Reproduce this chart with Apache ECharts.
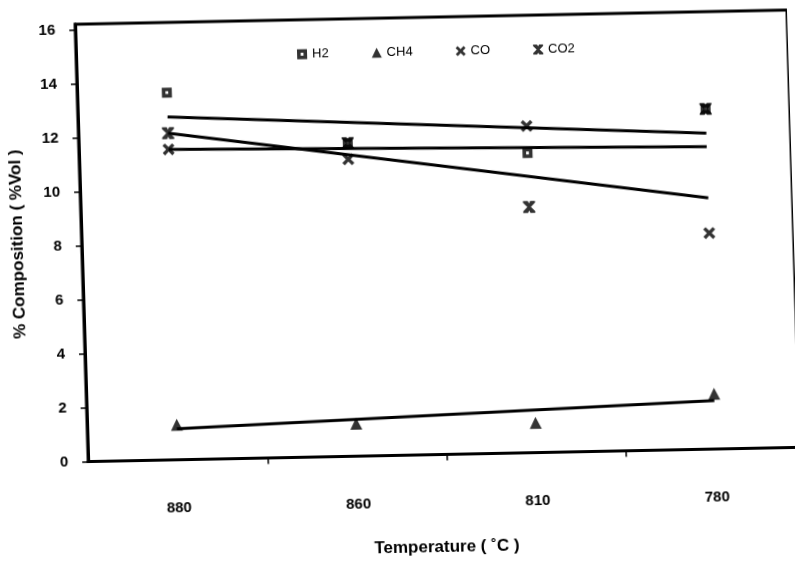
<!DOCTYPE html>
<html>
<head>
<meta charset="utf-8">
<script src="https://cdn.jsdelivr.net/npm/echarts@6/dist/echarts.min.js"></script>
<style>
html,body{margin:0;padding:0;background:#ffffff;overflow:hidden;}
#chart{width:795px;height:562px;transform:matrix(1,-0.02,0.03,1,0,0);transform-origin:397px 281px;}
</style>
</head>
<body>
<div id="chart"></div>
<script>
// ---- data ----
const categories = ['880', '860', '810', '780'];
const seriesNames = ['H2', 'CH4', 'CO', 'CO2'];
const h2  = [13.6, 11.6, 11.1, 12.6];
const ch4 = [1.3, 1.2, 1.1, 2.05];
const co  = [11.5, 11.0, 12.1, 8.0];
const co2 = [12.1, 11.6, 9.1, 12.6];
// linear trend lines (value at first and last category)
const trendH2  = [12.7, 11.7];
const trendCH4 = [1.15, 1.8];
const trendCO  = [12.1, 9.3];
const trendCO2 = [11.5, 11.2];
const yTicks = [0, 2, 4, 6, 8, 10, 12, 14, 16];
const xTitle = 'Temperature ( \u02DAC )';
const yTitle = '% Composition ( %Vol )';

// ---- styling ----
const FONT = 'Liberation Sans';
const sqPath = 'path://M0,0 L10,0 L10,10 L0,10 Z M3.6,3.6 L3.6,6.4 L6.4,6.4 L6.4,3.6 Z';
const xPath = 'path://M0,2 L2,0 L5,3 L8,0 L10,2 L7,5 L10,8 L8,10 L5,7 L2,10 L0,8 L3,5 Z';
const bowPath = 'path://M0,0 L4,0 L5,2 L6,0 L10,0 L10,1.5 L6.5,5 L10,8.5 L10,10 L6,10 L5,8 L4,10 L0,10 L0,8.5 L3.5,5 L0,1.5 Z';

function pts(arr){ return arr.map((v,i)=>[i,v]); }
function trend(arr){ return [[0,arr[0]],[categories.length-1,arr[1]]]; }
const catIdx = categories.map((c,i)=>i);
const midIdx = categories.slice(1).map((c,i)=>i+0.5);

const chart = echarts.init(document.getElementById('chart'), null, {renderer:'canvas'});
const lineStyle = {color:'#000', width:3};
chart.setOption({
  backgroundColor:'#ffffff',
  animation:false,
  grid:{left:83, right:-2, top:18, bottom:106.5, show:true, borderColor:'#000', borderWidth:3, backgroundColor:'transparent'},
  legend:{
    data: seriesNames,
    left: 299, top: 41,
    itemWidth: 10, itemHeight: 10, itemGap: 43,
    textStyle:{fontFamily:FONT, fontSize:13, color:'#000'}
  },
  xAxis:{
    type:'value', min:-0.5, max:3.47,
    splitLine:{show:false},
    axisLine:{onZero:false, lineStyle:{color:'#000', width:3}},
    axisTick:{show:true, length:6, lineStyle:{color:'#000', width:1.5}, customValues:midIdx},
    axisLabel:{customValues:catIdx, margin:41, fontFamily:FONT, fontSize:15, fontWeight:'bold', color:'#000',
      formatter:(v)=>categories[Math.round(v)]},
    name:xTitle, nameLocation:'middle', nameGap:84,
    nameTextStyle:{fontFamily:FONT, fontSize:17, fontWeight:'bold', color:'#000'}
  },
  yAxis:{
    type:'value', min:yTicks[0], max:16.2,
    splitLine:{show:false},
    axisLine:{onZero:false, lineStyle:{color:'#000', width:3}},
    axisTick:{show:true, length:6, lineStyle:{color:'#000', width:1.5}, customValues:yTicks},
    axisLabel:{customValues:yTicks, margin:20, fontFamily:FONT, fontSize:15, fontWeight:'bold', color:'#000'},
    name:yTitle, nameLocation:'middle', nameRotate:90, nameGap:55,
    nameTextStyle:{fontFamily:FONT, fontSize:17, fontWeight:'bold', color:'#000'}
  },
  series:[
    {name:'trendH2', type:'line', data:trend(trendH2), symbol:'none', lineStyle:lineStyle, silent:true},
    {name:'trendCH4', type:'line', data:trend(trendCH4), symbol:'none', lineStyle:lineStyle, silent:true},
    {name:'trendCO', type:'line', data:trend(trendCO), symbol:'none', lineStyle:lineStyle, silent:true},
    {name:'trendCO2', type:'line', data:trend(trendCO2), symbol:'none', lineStyle:lineStyle, silent:true},
    {name:'H2', type:'scatter', data:pts(h2), symbol:sqPath, symbolSize:10,
      itemStyle:{color:'#000'}},
    {name:'CH4', type:'scatter', data:pts(ch4), symbol:'triangle', symbolSize:12,
      itemStyle:{color:'#000'}},
    {name:'CO', type:'scatter', data:pts(co), symbol:xPath, symbolSize:12,
      itemStyle:{color:'#000'}},
    {name:'CO2', type:'scatter', data:pts(co2), symbol:bowPath, symbolSize:12,
      itemStyle:{color:'#000'}}
  ]
});
</script>
</body>
</html>
